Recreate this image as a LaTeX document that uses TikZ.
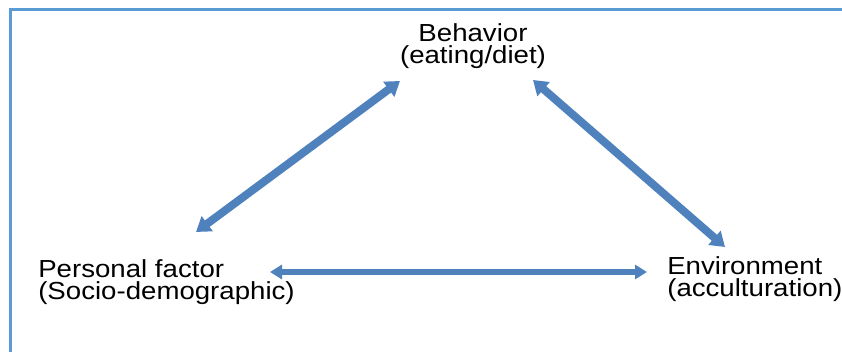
\documentclass[tikz,border=0pt]{standalone}
\usepackage{fontspec}
\setmainfont{Liberation Sans}
\usetikzlibrary{arrows.meta}
\definecolor{arrowblue}{HTML}{4F81BD}
\definecolor{frameblue}{HTML}{5B9BD5}
\begin{document}
\begin{tikzpicture}[x=0.75pt,y=-0.75pt,
  txt/.style={inner sep=0pt, xscale=1.12, font=\fontsize{18.5}{16.6}\selectfont},
  diagarrow/.style={draw=arrowblue, line width=6pt,
    {Triangle[width=13.5pt,length=10.5pt]}-{Triangle[width=13.5pt,length=10.5pt]}},
  horarrow/.style={draw=arrowblue, line width=5pt,
    {Triangle[width=10.5pt,length=9pt]}-{Triangle[width=10.5pt,length=9pt]}}]
\useasboundingbox (0,0) rectangle (842,352);
\draw[frameblue, line width=2.25pt] (842,9.7) -- (10,9.7) -- (10,352);

\node[txt, anchor=north, align=center] (beh) at (473,23.3) {Behavior\\(eating/diet)};
\node[txt, anchor=north west, align=left] (pers) at (38,259.3) {Personal factor\\(Socio-demographic)};
\node[txt, anchor=north west, align=left] (env) at (667,256.3) {Environment\\(acculturation)};

\coordinate (l1) at (196,232);
\coordinate (l2) at (400,81);
\coordinate (r1) at (533,80);
\coordinate (r2) at (725,247);
\coordinate (h1) at (270,272);
\coordinate (h2) at (647,272);

\draw[diagarrow] (l1) -- (l2);
\draw[diagarrow] (r1) -- (r2);
\draw[horarrow] (h1) -- (h2);
\end{tikzpicture}
\end{document}
